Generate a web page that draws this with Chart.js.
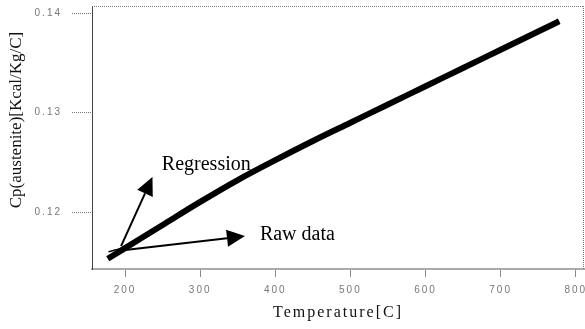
<!DOCTYPE html>
<html>
<head>
<meta charset="utf-8">
<script src="https://cdn.jsdelivr.net/npm/chart.js@4/dist/chart.umd.min.js"></script>
<style>
  html, body { margin: 0; padding: 0; background: #fff; }
  #wrap { width: 585px; height: 329px; }
</style>
</head>
<body>
<div id="wrap"><canvas id="c" width="585" height="329"></canvas></div>
<script>
// Specific heat of austenite versus temperature
const temperature  = [177, 200, 250, 300, 350, 400, 450, 500, 550, 600, 650, 700, 750, 778];
const cpRegression = [0.11530, 0.11637, 0.11870, 0.12102, 0.12322, 0.12522, 0.12715, 0.12899, 0.13083, 0.13266, 0.13450, 0.13633, 0.13817, 0.13920];

const rawTemperature = [178, 200, 225, 250, 300, 400, 500, 600, 700, 778];
const cpRaw          = [0.1160, 0.1165, 0.1174, 0.1187, 0.1210, 0.1252, 0.1290, 0.1327, 0.1363, 0.1392];

const xTicks = [200, 300, 400, 500, 600, 700, 800];
const yTicks = [0.12, 0.13, 0.14];

const xLabel = 'Temperature[C]';
const yLabel = 'Cp(austenite)[Kcal/Kg/C]';

// Callout arrows and their captions, anchored in data units
const calloutText = ['Regression', 'Raw data'];
const calloutTail = [[194.7, 0.11657], [197.3, 0.11616]];
const calloutTip  = [[236.5, 0.12353], [359.6, 0.11758]];
const calloutAt   = [[249.0, 0.12424], [379.5, 0.11717]];

function drawArrow(ctx, x0, y0, x1, y1, headLen, headW) {
  const a = Math.atan2(y1 - y0, x1 - x0);
  const bx = x1 - headLen * Math.cos(a);
  const by = y1 - headLen * Math.sin(a);
  ctx.beginPath();
  ctx.moveTo(x0, y0);
  ctx.lineTo(bx, by);
  ctx.stroke();
  ctx.beginPath();
  ctx.moveTo(x1, y1);
  ctx.lineTo(bx + headW / 2 * Math.sin(a), by - headW / 2 * Math.cos(a));
  ctx.lineTo(bx - headW / 2 * Math.sin(a), by + headW / 2 * Math.cos(a));
  ctx.closePath();
  ctx.fill();
}

const decorations = {
  id: 'decorations',
  beforeDraw(chart) {
    chart.ctx.letterSpacing = '2px';
  },
  afterDraw(chart) {
    const { ctx, chartArea: ca, scales: { x, y } } = chart;
    ctx.save();
    ctx.letterSpacing = '0px';

    // dotted top and right frame
    ctx.strokeStyle = '#777';
    ctx.lineWidth = 1;
    ctx.setLineDash([1, 1]);
    ctx.beginPath();
    ctx.moveTo(ca.left, ca.top + 0.5);
    ctx.lineTo(ca.right, ca.top + 0.5);
    ctx.moveTo(ca.right - 0.5, ca.top);
    ctx.lineTo(ca.right - 0.5, ca.bottom);
    ctx.stroke();
    ctx.setLineDash([]);

    // callouts
    ctx.strokeStyle = '#000';
    ctx.fillStyle = '#000';
    ctx.lineWidth = 2;
    for (let i = 0; i < calloutText.length; i++) {
      const t0 = calloutTail[i], t1 = calloutTip[i], p = calloutAt[i];
      drawArrow(ctx,
        x.getPixelForValue(t0[0]), y.getPixelForValue(t0[1]),
        x.getPixelForValue(t1[0]), y.getPixelForValue(t1[1]), 18, 17);
      ctx.font = '20px "Liberation Serif", "Times New Roman", serif';
      ctx.textAlign = 'left';
      ctx.textBaseline = 'alphabetic';
      ctx.fillText(calloutText[i], x.getPixelForValue(p[0]), y.getPixelForValue(p[1]));
    }

    // vertical axis title
    ctx.translate(17, 120);
    ctx.rotate(-Math.PI / 2);
    ctx.font = '17px "Liberation Serif", "Times New Roman", serif';
    ctx.fillStyle = '#111';
    ctx.textAlign = 'center';
    ctx.textBaseline = 'middle';
    ctx.fillText(yLabel, 0, 0);
    ctx.restore();
    ctx.letterSpacing = '0px';
  }
};

new Chart(document.getElementById('c'), {
  type: 'line',
  data: {
    datasets: [
      {
        label: 'Regression',
        data: temperature.map((t, i) => ({ x: t, y: cpRegression[i] })),
        borderColor: '#000',
        borderWidth: 6,
        pointRadius: 0,
        cubicInterpolationMode: 'monotone',
        fill: false
      },
      {
        label: 'Raw data',
        data: rawTemperature.map((t, i) => ({ x: t, y: cpRaw[i] })),
        borderColor: '#000',
        borderWidth: 1.5,
        pointRadius: 0,
        cubicInterpolationMode: 'monotone',
        fill: false
      }
    ]
  },
  options: {
    responsive: false,
    animation: false,
    devicePixelRatio: 1,
    layout: { padding: { top: 6, right: 1, left: 0, bottom: 0 } },
    plugins: { legend: { display: false }, tooltip: { enabled: false } },
    scales: {
      x: {
        type: 'linear',
        min: 156,
        max: 811,
        afterBuildTicks: s => { s.ticks = xTicks.map(v => ({ value: v })); },
        afterFit: s => { s.height = 60; s.paddingLeft = 0; s.paddingRight = 0; },
        ticks: {
          color: '#777',
          font: { family: 'Liberation Sans', size: 10 },
          padding: 7,
          maxRotation: 0,
          autoSkip: false,
          callback: v => String(v)
        },
        grid: { drawOnChartArea: false, drawTicks: true, tickLength: 8, tickColor: '#888', tickWidth: 1 },
        border: { display: true, color: '#aaa', width: 2 },
        title: {
          display: true,
          text: xLabel,
          color: '#111',
          font: { family: 'Liberation Serif', size: 16 },
          padding: { top: 0, bottom: 7 }
        }
      },
      y: {
        type: 'linear',
        min: 0.11427,
        max: 0.14074,
        afterBuildTicks: s => { s.ticks = yTicks.map(v => ({ value: v })); },
        afterFit: s => { s.width = 92; s.paddingTop = 0; s.paddingBottom = 0; },
        ticks: {
          color: '#777',
          font: { family: 'Liberation Sans', size: 10 },
          padding: 10,
          autoSkip: false,
          callback: v => v.toFixed(2)
        },
        grid: { drawOnChartArea: false, drawTicks: true, tickLength: 20, tickColor: '#777', tickWidth: 1, tickBorderDash: [1, 1] },
        border: { display: true, color: '#444', width: 1, dash: [1, 1] }
      }
    }
  },
  plugins: [decorations]
});
</script>
</body>
</html>
